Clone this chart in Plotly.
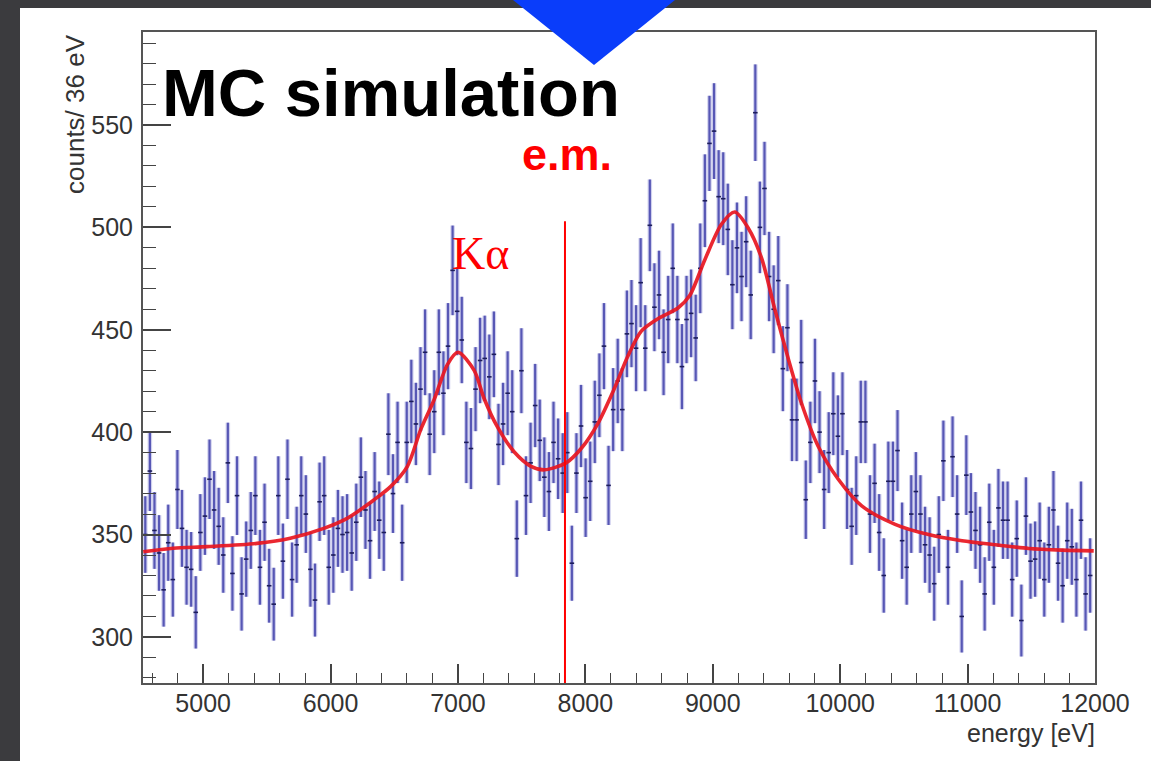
import numpy as np
import plotly.graph_objects as go

# ---------------- data ----------------
EDGE_LO = 4528.0      # lower edge of first bin [eV]
BIN_W = 36.0          # bin width [eV]

counts = [
    350, 381, 352, 341, 323, 346, 328, 372, 353, 334,
    333, 312, 351, 359, 377, 362, 354, 340, 385, 331,
    369, 321, 338, 352, 369, 334, 356, 325, 316, 369,
    337, 377, 328, 345, 369, 360, 333, 318, 366, 369,
    334, 340, 353, 350, 351, 341, 356, 378, 362, 347,
    371, 357, 351, 399, 370, 395, 346, 395, 415, 404,
    421, 439, 399, 410, 439, 419, 442, 479, 459, 445,
    395, 392, 421, 435, 436, 427, 438, 394, 404, 419,
    410, 348, 430, 369, 385, 413, 396, 378, 371, 395,
    387, 380, 390, 336, 380, 403, 368, 376, 405, 418,
    442, 374, 411, 425, 411, 448, 453, 441, 473, 441,
    501, 461, 467, 439, 455, 480, 455, 432, 455, 458,
    446, 480, 513, 541, 547, 515, 514, 499, 472, 490,
    476, 493, 467, 556, 500, 519, 476, 460, 474, 431,
    451, 406, 406, 434, 367, 395, 425, 400, 372, 390,
    409, 398, 409, 372, 354, 369, 405, 405, 360, 375,
    351, 330, 376, 376, 391, 347, 334, 360, 371, 360,
    345, 340, 326, 350, 386, 334, 388, 360, 310, 379,
    361, 352, 345, 321, 356, 334, 363, 357, 357, 328,
    348, 308, 359, 337, 338, 347, 328, 345, 362, 336,
    325, 347, 344, 328, 357, 321, 330,
]

fit_energy = [4530, 4766, 5029, 5422, 5684, 5947, 6130, 6340, 6471, 6602,
              6707, 6812, 6917, 7000, 7127, 7206, 7311, 7442, 7573, 7678,
              7849, 7967, 8098, 8229, 8334, 8439, 8570, 8727, 8819, 8937,
              9068, 9173, 9278, 9383, 9487, 9592, 9697, 9828, 9985, 10169,
              10431, 10694, 10956, 11218, 11480, 11743, 11990]
fit_counts = [341.6, 343.3, 344.1, 345.7, 348.2, 353.0, 357.9, 366.9, 373.4, 383.2,
              401.1, 415.7, 433.0, 439.0, 430.2, 416.3, 402.4, 390.3, 383.3, 381.6,
              385.0, 392.0, 404.2, 421.5, 437.2, 449.3, 455.4, 460.6, 466.7, 484.1,
              501.5, 507.5, 499.7, 485.0, 460.0, 436.0, 414.0, 393.0, 377.0, 364.0,
              355.0, 350.0, 347.0, 345.0, 343.2, 342.4, 342.0]

EM_ENERGY = 7840      # e.m. marker line position [eV]
EM_LINE_TOP = 503     # top of marker line [counts]

X_RANGE = [4528, 12000]
Y_RANGE = [277.5, 595.4]

# ---------------- geometry helpers (pixel -> paper) ----------------
W, H = 1151, 761
L, R, T, B = 143, 1095, 32, 683


def px(x):
    return (x - L) / (R - L)


def py(y):
    return (B - y) / (B - T)


centers = EDGE_LO + BIN_W * (np.arange(len(counts)) + 0.5)
errs = np.sqrt(np.array(counts, dtype=float))

fig = go.Figure()

# soft halo under the vertical error bars (blurred look of the original)
fig.add_trace(go.Scatter(
    x=centers, y=counts, mode="markers",
    marker=dict(size=1, color="rgba(0,0,0,0)"),
    error_y=dict(type="data", array=errs, visible=True, thickness=4.5,
                 width=0, color="rgba(120,120,205,0.35)"),
    showlegend=False, hoverinfo="skip",
))

fig.add_trace(go.Scatter(
    x=centers, y=counts, mode="markers",
    marker=dict(size=1, color="#20205a"),
    error_y=dict(type="data", array=errs, visible=True, thickness=2.2,
                 width=0, color="rgba(66,66,170,0.85)"),
    error_x=dict(type="data", array=[BIN_W / 2] * len(counts), visible=True,
                 thickness=1.6, width=0, color="#1e1e5c"),
    showlegend=False, hoverinfo="skip",
))

fig.add_trace(go.Scatter(
    x=fit_energy, y=fit_counts, mode="lines",
    line=dict(color="rgba(232,22,32,0.92)", width=3.6, shape="spline", smoothing=0.8),
    showlegend=False, hoverinfo="skip",
))

shapes = [
    # white slide panel over dark background
    dict(type="rect", xref="paper", yref="paper", layer="below",
         x0=px(20), x1=px(1160), y0=py(770), y1=py(8),
         fillcolor="white", line=dict(width=0)),
    # e.m. marker line
    dict(type="line", xref="x", yref="y", x0=EM_ENERGY, x1=EM_ENERGY,
         y0=Y_RANGE[0], y1=EM_LINE_TOP, line=dict(color="#ff0000", width=2)),
    # blue triangle
    dict(type="path", xref="paper", yref="paper", layer="above",
         path=f"M {px(508)},{py(-4)} L {px(680)},{py(-4)} L {px(594)},{py(65)} Z",
         fillcolor="#0a3dfa", line=dict(width=0)),
]

annotations = [
    dict(text="<b>MC simulation</b>", x=px(160), y=py(93), xref="paper", yref="paper",
         xanchor="left", yanchor="middle", showarrow=False,
         font=dict(family="Liberation Sans, Arial, sans-serif", size=67, color="black")),
    dict(text="<b>e.m.</b>", x=px(520), y=py(154), xref="paper", yref="paper",
         xanchor="left", yanchor="middle", showarrow=False,
         font=dict(family="Liberation Sans, Arial, sans-serif", size=45, color="#ff0000")),
    dict(text="Kα", x=px(450), y=py(254), xref="paper", yref="paper",
         xanchor="left", yanchor="middle", showarrow=False,
         font=dict(family="Liberation Serif, Times New Roman, serif", size=46, color="#ff0000")),
    dict(text="counts/ 36 eV", x=px(75), y=py(32), xref="paper", yref="paper",
         xanchor="center", yanchor="top", textangle=-90, showarrow=False,
         font=dict(family="Liberation Sans, Arial, sans-serif", size=26, color="#333333")),
    dict(text="energy [eV]", x=px(1097), y=py(733), xref="paper", yref="paper",
         xanchor="right", yanchor="middle", showarrow=False,
         font=dict(family="Liberation Sans, Arial, sans-serif", size=25, color="#333333")),
]

axis_common = dict(
    showgrid=False, zeroline=False, showline=True, mirror=True,
    linecolor="#555555", linewidth=2, ticks="inside", tickcolor="#444444",
    tickwidth=1.6,
    tickfont=dict(family="Liberation Sans, Arial, sans-serif", size=25, color="#333333"),
)

fig.update_layout(
    width=W, height=H,
    margin=dict(l=L, r=W - R, t=T, b=H - B, pad=0),
    paper_bgcolor="#3b3b3e", plot_bgcolor="white",
    xaxis=dict(range=X_RANGE, dtick=1000, tick0=0, ticklen=19, tickformat="d",
               ticklabelstandoff=-3,
               minor=dict(ticks="inside", dtick=200, tick0=0, ticklen=10,
                          tickcolor="#444444", tickwidth=1.4),
               **axis_common),
    yaxis=dict(range=Y_RANGE, dtick=50, tick0=0, ticklen=28, tickformat="d",
               ticklabelstandoff=3,
               minor=dict(ticks="inside", dtick=10, tick0=0, ticklen=13,
                          tickcolor="#444444", tickwidth=1.4),
               **axis_common),
    shapes=shapes,
    annotations=annotations,
)

fig.write_html("out.html")
